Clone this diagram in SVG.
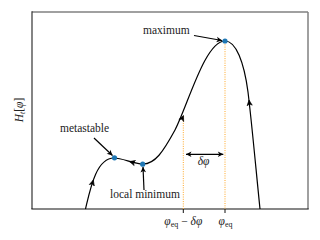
<svg xmlns="http://www.w3.org/2000/svg" width="320" height="240" viewBox="0 0 320 240" font-family="'Liberation Serif', 'Times New Roman', serif">
<style>
text{font-family:'Liberation Serif','Times New Roman',serif;font-size:11.5px;fill:#222}
.it{font-style:italic}
.sub{font-size:8px}
.curve{fill:none;stroke:#000;stroke-width:1.2}
.ann{fill:none;stroke:#000;stroke-width:1.2}
.guide{stroke:#ffa726;stroke-width:1;stroke-dasharray:1,1.3}
.dot{fill:#1f77b4}
</style>
<defs>
<path id="ah" d="M0,0 L-5.5,-2.6 L-4,0 L-5.5,2.6 Z" fill="#000" stroke="#000" stroke-width="0.6" stroke-linejoin="miter"/>
<marker id="m" viewBox="-6 -4 7 8" refX="0" refY="0" markerWidth="7" markerHeight="8" markerUnits="userSpaceOnUse" orient="auto-start-reverse">
<path d="M0,0 L-5.5,-2.8 L-4,0 L-5.5,2.8 Z" fill="#000"/>
</marker>
</defs>
<rect width="320" height="240" fill="#fff"/>
<g id="frame">
<line x1="32" y1="12" x2="308" y2="12" stroke="#808080" stroke-width="1.5"/>
<line x1="308" y1="12" x2="308" y2="209" stroke="#808080" stroke-width="1.5"/>
<line x1="32" y1="11.3" x2="32" y2="209" stroke="#333" stroke-width="1.2"/>
<line x1="31.4" y1="209" x2="308.7" y2="209" stroke="#111" stroke-width="1.2"/>
<line x1="183.3" y1="209" x2="183.3" y2="213" stroke="#111" stroke-width="1"/>
<line x1="225" y1="209" x2="225" y2="213" stroke="#111" stroke-width="1"/>
</g>
<g id="guides">
<line class="guide" x1="183.3" y1="116" x2="183.3" y2="209"/>
<line class="guide" x1="225" y1="42" x2="225" y2="209"/>
</g>
<g id="connectors">
<path id="curve" class="curve" d="M85.5,209 C90,190 96,158 114,158 C123,158 133,164 143,164 C155,164 163,152 175,130 C188,105 205,41 225,41 C236,41 244,62 248,92 C252,125 256,170 260,209"/>
<use href="#ah" transform="translate(93.3,180) rotate(-74)"/>
<use href="#ah" transform="translate(129.5,161.6) rotate(195)"/>
<use href="#ah" transform="translate(183.5,115.5) rotate(-66)"/>
<use href="#ah" transform="translate(249,100) rotate(-97)"/>
<line class="ann" x1="194" y1="35.5" x2="222" y2="40.5" marker-end="url(#m)"/>
<line class="ann" x1="94" y1="138" x2="112.5" y2="155.5" marker-end="url(#m)"/>
<line class="ann" x1="144" y1="190" x2="143" y2="167" marker-end="url(#m)"/>
<line class="ann" x1="186" y1="154.3" x2="223.3" y2="154.3" marker-start="url(#m)" marker-end="url(#m)"/>
</g>
<g id="maximum">
<circle class="dot" cx="225" cy="41" r="2.6"/>
<text x="143" y="33.5">maximum</text>
</g>
<g id="metastable">
<circle class="dot" cx="114.5" cy="157.8" r="2.6"/>
<text x="60" y="132">metastable</text>
</g>
<g id="local-minimum">
<circle class="dot" cx="142.7" cy="164.2" r="2.6"/>
<text x="110" y="197.5">local minimum</text>
</g>
<g id="labels">
<text x="203.5" y="164.5" text-anchor="middle" class="it">δφ</text>
<text x="183.3" y="224.5" text-anchor="middle"><tspan class="it">φ</tspan><tspan class="sub" dy="2">eq</tspan><tspan dy="-2"> − </tspan><tspan class="it">δφ</tspan></text>
<text x="225.5" y="224.5" text-anchor="middle"><tspan class="it">φ</tspan><tspan class="sub" dy="2">eq</tspan></text>
<text transform="translate(23,110) rotate(-90)" text-anchor="middle"><tspan class="it">H</tspan><tspan class="sub it" dy="2">t</tspan><tspan dy="-2">[</tspan><tspan class="it">φ</tspan><tspan>]</tspan></text>
</g>
</svg>
